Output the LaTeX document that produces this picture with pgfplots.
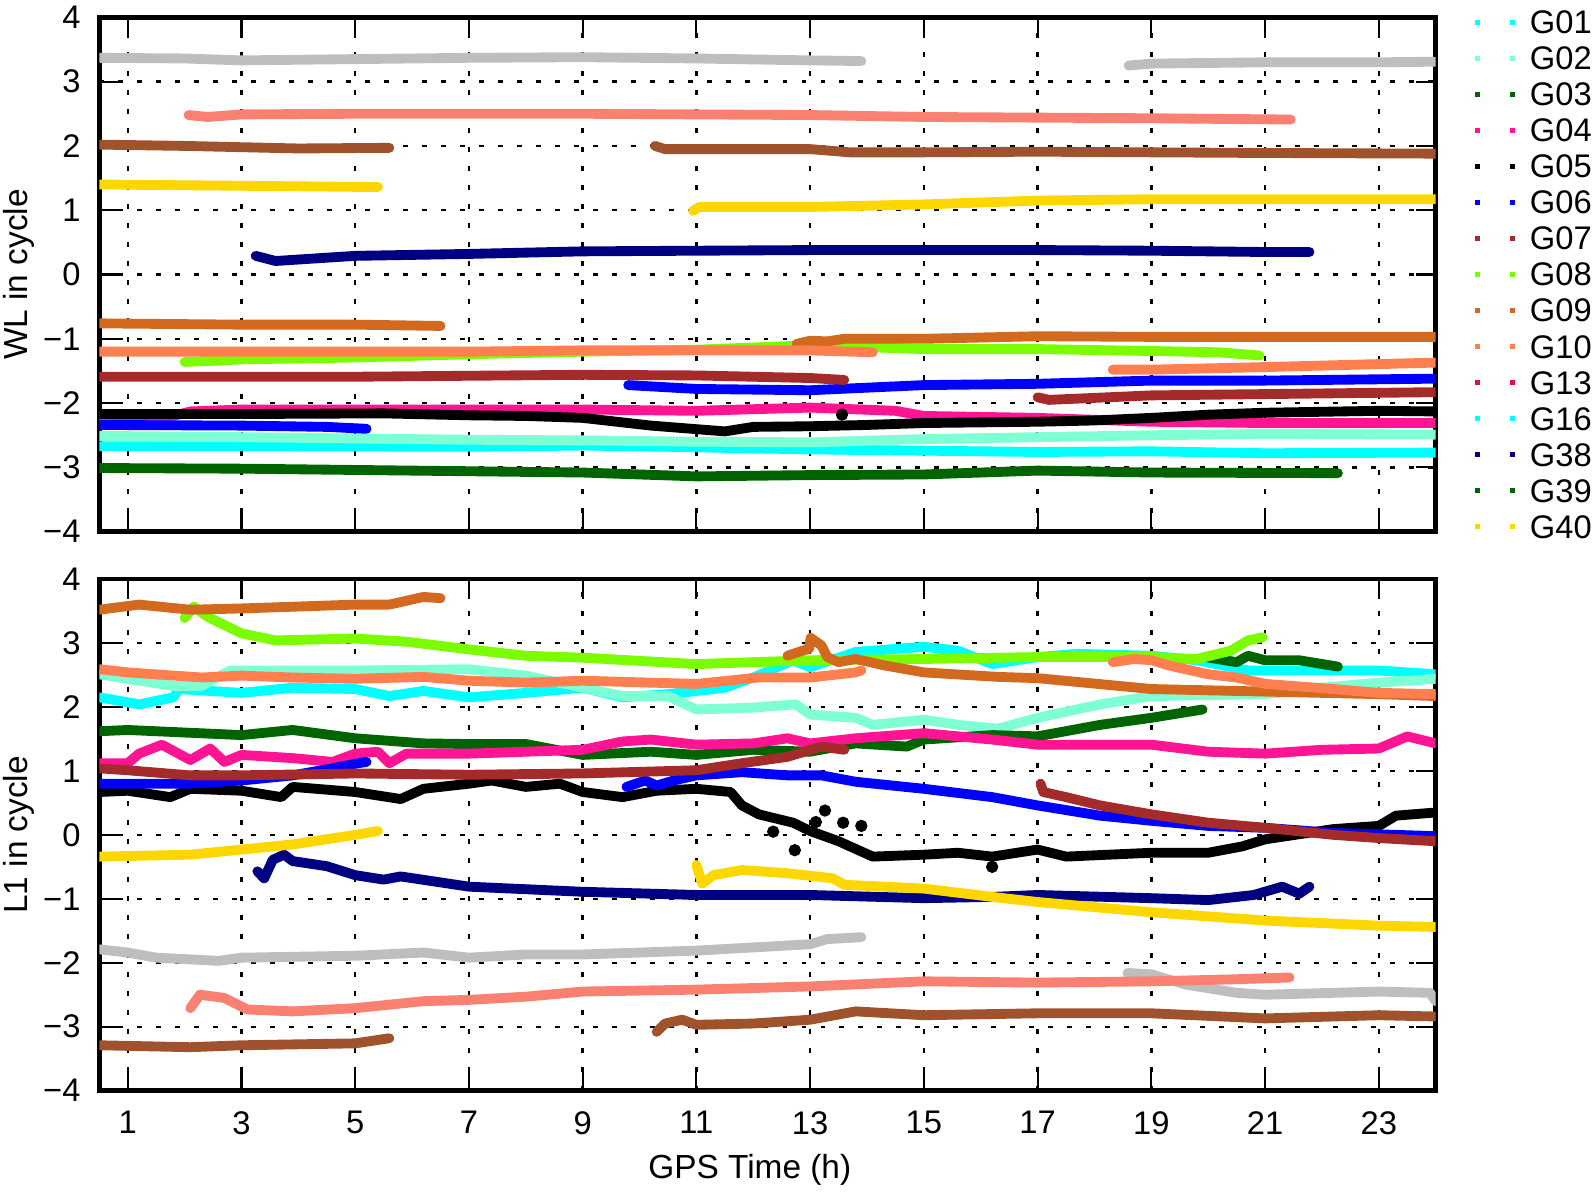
\documentclass[border=0pt]{standalone}
\usepackage{fontspec}
\setmainfont{Liberation Sans}
\usepackage{pgfplots}
\pgfplotsset{compat=1.18}

% satellite colours
\definecolor{cG01}{HTML}{00FFFF}
\definecolor{cG02}{HTML}{7FFFD4}
\definecolor{cG03}{HTML}{006400}
\definecolor{cG04}{HTML}{FF1493}
\definecolor{cG05}{HTML}{000000}
\definecolor{cG06}{HTML}{0000FF}
\definecolor{cG07}{HTML}{A52A2A}
\definecolor{cG08}{HTML}{7CFC00}
\definecolor{cG09}{HTML}{D2691E}
\definecolor{cG10}{HTML}{FF7F50}
\definecolor{cG13}{HTML}{DC143C}
\definecolor{cG16}{HTML}{00FFFF}
\definecolor{cG38}{HTML}{000080}
\definecolor{cG39}{HTML}{006400}
\definecolor{cG40}{HTML}{FFD700}
\definecolor{cSil}{HTML}{BEBEBE}
\definecolor{cSal}{HTML}{FA8072}
\definecolor{cSie}{HTML}{A0522D}

\pgfplotsset{
  panel/.style={
    scale only axis, width=13.364cm,
    xmin=0.5, xmax=24, ymin=-4, ymax=4,
    xtick={1,3,...,23}, ytick={-4,...,4},
    yticklabels={−4,−3,−2,−1,0,1,2,3,4},
    tick align=inside, major tick length=0.2cm,
    every tick/.style={black, line width=0.6pt},
    axis line style={line width=1.4pt},
    grid=major,
    major grid style={black, line width=0.7pt, dash pattern=on 1.4pt off 4pt},
    tick label style={font=\fontsize{9.3}{11}\selectfont},
    yticklabel style={xshift=-0.064cm},
    xticklabel style={yshift=-0.084cm},
    label style={font=\fontsize{9.5}{11}\selectfont},
    ylabel style={at={(axis description cs:-0.0602,0.5)}, anchor=center, rotate=0},
    every axis plot/.append style={line width=2.8pt, line cap=round, line join=round},
  },
  dots/.style={only marks, mark=*, mark size=1.6pt, line width=0.3pt},
}

\begin{document}
\begin{tikzpicture}
\path[use as bounding box] (0,0) rectangle (15.94,-11.91);

% ---------- WL ----------
\begin{axis}[panel, height=5.144cm,
    at={(0.993cm,-0.173cm)}, anchor=north west,
    xticklabels={},
    ylabel={WL in cycle},
    legend cell align=left,
    legend image code/.code={
      \path[fill, draw=none] (0cm,-0.025cm) rectangle (0.05cm,0.025cm);
      \path[fill, draw=none] (0.35cm,-0.025cm) rectangle (0.40cm,0.025cm);},
    legend style={at={(axis description cs:1,1)}, anchor=north west,
      xshift=0.39cm, yshift=0.14cm, draw=none, fill=none,
      inner sep=0pt, row sep=0pt, column sep=0.145cm,
      font=\fontsize{9.3}{11}\selectfont,
      nodes={inner sep=0pt, minimum height=0.3606cm, text depth=0pt}},
  ]
  \addplot[cSil, forget plot] coordinates {(0.5,3.37)(2,3.36)(3,3.33)(5,3.35)(7,3.37)(9,3.38)(11,3.36)(13,3.33)(13.9,3.32)};
  \addplot[cSil, forget plot] coordinates {(18.6,3.25)(19,3.28)(20,3.29)(21,3.3)(23,3.3)(24,3.31)};
  \addplot[cSal, forget plot] coordinates {(2.07,2.48)(2.4,2.45)(3,2.49)(5,2.5)(7,2.5)(9,2.5)(11,2.49)(13,2.48)(15,2.45)(17,2.44)(19,2.43)(21.45,2.41)};
  \addplot[cSie, forget plot] coordinates {(0.5,2.02)(2,2.0)(3,1.98)(4,1.96)(5.6,1.97)};
  \addplot[cSie, forget plot] coordinates {(10.27,2.0)(10.45,1.95)(13,1.95)(13.7,1.9)(15,1.9)(17,1.91)(19,1.9)(21,1.89)(24,1.88)};
  \addplot[cG01, forget plot] coordinates {(0.5,-2.67)(3,-2.67)(7,-2.68)(9,-2.66)(10.5,-2.68)(13,-2.72)(15,-2.74)(17,-2.76)(19,-2.75)(21,-2.78)(24,-2.77)};
  \addplot[cG02, forget plot] coordinates {(0.5,-2.51)(3,-2.53)(7,-2.57)(9,-2.58)(11,-2.6)(13,-2.61)(15,-2.56)(17,-2.53)(19,-2.5)(21,-2.48)(24,-2.49)};
  \addplot[cG03, forget plot] coordinates {(0.5,-3.01)(3,-3.02)(7,-3.06)(9,-3.08)(11,-3.14)(13,-3.12)(15,-3.11)(17,-3.05)(19,-3.08)(22.28,-3.09)};
  \addplot[cG04, forget plot] coordinates {(0.5,-2.2)(1.8,-2.2)(2.1,-2.13)(3,-2.1)(5,-2.1)(9,-2.1)(11,-2.12)(13,-2.07)(14.5,-2.12)(15,-2.2)(17,-2.23)(19,-2.29)(21,-2.31)(24,-2.31)};
  \addplot[cG05, forget plot] coordinates {(0.5,-2.17)(3,-2.17)(5.5,-2.16)(7,-2.19)(8,-2.2)(9,-2.23)(10.2,-2.35)(11.5,-2.44)(12,-2.37)(13,-2.36)(14,-2.34)(15,-2.31)(17,-2.29)(18,-2.27)(19,-2.23)(20,-2.18)(21,-2.15)(23,-2.12)(24,-2.13)};
  \addplot[cG05, dots, forget plot] coordinates {(13.56,-2.18)};
  \addplot[cG06, forget plot] coordinates {(0.5,-2.34)(3,-2.35)(4.5,-2.37)(5.2,-2.4)};
  \addplot[cG06, forget plot] coordinates {(9.8,-1.72)(11,-1.78)(13,-1.8)(15,-1.72)(17,-1.7)(19,-1.65)(21,-1.65)(24,-1.62)};
  \addplot[cG07, forget plot] coordinates {(0.5,-1.59)(5,-1.59)(9,-1.56)(11,-1.57)(13,-1.61)(13.6,-1.64)};
  \addplot[cG07, forget plot] coordinates {(17,-1.91)(17.2,-1.95)(19,-1.88)(21,-1.86)(24,-1.83)};
  \addplot[cG08, forget plot] coordinates {(2,-1.36)(3,-1.32)(5,-1.29)(7,-1.24)(9,-1.2)(11,-1.17)(13,-1.1)(15,-1.16)(17,-1.16)(19,-1.19)(20.2,-1.21)(20.9,-1.26)};
  \addplot[cG09, forget plot] coordinates {(0.5,-0.76)(3,-0.78)(5,-0.78)(6.5,-0.8)};
  \addplot[cG09, forget plot] coordinates {(12.76,-1.08)(13,-1.03)(13.3,-1.04)(13.6,-1.0)(15,-1.0)(17,-0.96)(19,-0.97)(24,-0.97)};
  \addplot[cG10, forget plot] coordinates {(0.5,-1.2)(7,-1.2)(9,-1.18)(13,-1.18)(14.1,-1.21)};
  \addplot[cG10, forget plot] coordinates {(18.32,-1.48)(19,-1.48)(21,-1.44)(24,-1.37)};
  \addplot[cG38, forget plot] coordinates {(3.25,0.29)(3.6,0.21)(5,0.29)(7,0.32)(9,0.36)(11,0.37)(13,0.38)(17,0.38)(19,0.37)(21,0.35)(21.78,0.35)};
  \addplot[cG40, forget plot] coordinates {(0.5,1.4)(3,1.38)(5.4,1.36)};
  \addplot[cG40, forget plot] coordinates {(10.94,0.99)(11.05,1.05)(13,1.05)(15,1.09)(17,1.15)(19,1.17)(24,1.17)};

  \addlegendimage{cG01}\addlegendentry{G01}
  \addlegendimage{cG02}\addlegendentry{G02}
  \addlegendimage{cG03}\addlegendentry{G03}
  \addlegendimage{cG04}\addlegendentry{G04}
  \addlegendimage{cG05}\addlegendentry{G05}
  \addlegendimage{cG06}\addlegendentry{G06}
  \addlegendimage{cG07}\addlegendentry{G07}
  \addlegendimage{cG08}\addlegendentry{G08}
  \addlegendimage{cG09}\addlegendentry{G09}
  \addlegendimage{cG10}\addlegendentry{G10}
  \addlegendimage{cG13}\addlegendentry{G13}
  \addlegendimage{cG16}\addlegendentry{G16}
  \addlegendimage{cG38}\addlegendentry{G38}
  \addlegendimage{cG39}\addlegendentry{G39}
  \addlegendimage{cG40}\addlegendentry{G40}
\end{axis}

% ---------- L1 ----------
\begin{axis}[panel, height=5.117cm,
    at={(0.993cm,-5.79cm)}, anchor=north west,
    xticklabels={1,3,5,7,9,11,13,15,17,19,21,23},
    ylabel={L1 in cycle},
    xlabel={GPS Time (h)},
    xlabel style={at={(axis description cs:0.4867,-0.155)}, anchor=center},
  ]
  \addplot[cSil] coordinates {(0.5,-1.79)(1,-1.84)(1.5,-1.92)(2.6,-1.97)(3,-1.92)(5,-1.89)(6.2,-1.84)(7,-1.92)(8,-1.87)(9,-1.87)(11,-1.81)(13,-1.71)(13.3,-1.63)(13.9,-1.6)};
  \addplot[cSil] coordinates {(18.58,-2.16)(19,-2.18)(19.6,-2.34)(20.5,-2.47)(21,-2.5)(22.2,-2.47)(23,-2.45)(23.9,-2.47)(24,-2.6)};
  \addplot[cSal] coordinates {(2.1,-2.71)(2.27,-2.5)(2.7,-2.55)(3.1,-2.73)(3.9,-2.76)(5,-2.71)(6.2,-2.6)(7,-2.58)(8,-2.53)(9,-2.45)(11,-2.42)(13,-2.37)(15,-2.29)(17,-2.31)(19,-2.29)(20.4,-2.26)(21.43,-2.23)};
  \addplot[cSie] coordinates {(0.5,-3.29)(2.1,-3.32)(3,-3.29)(5,-3.26)(5.6,-3.18)};
  \addplot[cSie] coordinates {(10.3,-3.08)(10.45,-2.95)(10.75,-2.89)(11,-2.97)(12,-2.95)(13,-2.89)(13.8,-2.76)(15,-2.82)(17,-2.79)(19,-2.79)(21,-2.87)(23,-2.82)(24,-2.84)};
  \addplot[cG01] coordinates {(0.5,2.15)(1.2,2.04)(1.8,2.15)(1.9,2.28)(3,2.22)(3.9,2.3)(5,2.28)(5.6,2.17)(6.2,2.25)(7,2.15)(8,2.22)(9,2.3)(9.7,2.15)(10.5,2.2)(11.5,2.3)(12,2.46)(12.7,2.73)(13,2.62)(13.8,2.86)(15,2.94)(15.6,2.88)(16.2,2.67)(17,2.78)(17.7,2.83)(19,2.8)(19.8,2.73)(20.7,2.57)(21.6,2.57)(23,2.57)(24,2.51)};
  \addplot[cG02] coordinates {(0.5,2.51)(1,2.44)(1.8,2.33)(2.3,2.33)(2.8,2.57)(5,2.57)(7,2.59)(8,2.49)(9,2.3)(9.7,2.17)(10.5,2.17)(11,1.96)(12,1.99)(12.75,2.04)(13,1.88)(13.8,1.83)(14.1,1.72)(15,1.8)(15.6,1.72)(16.3,1.66)(17,1.83)(18.1,2.04)(19,2.17)(21,2.2)(22,2.3)(23,2.38)(24,2.44)};
  \addplot[cG03] coordinates {(0.5,1.62)(1,1.64)(3,1.56)(3.9,1.64)(5,1.51)(6.2,1.43)(7,1.42)(8,1.42)(9,1.25)(10.2,1.3)(11,1.25)(12,1.33)(13,1.3)(13.8,1.43)(14.7,1.38)(15,1.49)(16.2,1.56)(17,1.54)(18.1,1.72)(19,1.83)(19.9,1.96)};
  \addplot[cG39] coordinates {(19.95,2.78)(20.5,2.7)(20.7,2.8)(21,2.73)(21.6,2.73)(22.28,2.63)};
  \addplot[cG04] coordinates {(0.5,1.12)(1,1.12)(1.2,1.27)(1.6,1.41)(2.1,1.17)(2.45,1.35)(2.7,1.14)(3,1.25)(3.9,1.2)(4.6,1.14)(5,1.27)(5.4,1.3)(5.6,1.12)(5.9,1.27)(7,1.27)(8,1.3)(9,1.33)(9.7,1.46)(10.2,1.49)(11,1.41)(12,1.43)(12.6,1.51)(13,1.43)(13.8,1.51)(15,1.59)(16.2,1.49)(17,1.41)(19,1.41)(20,1.3)(21,1.27)(22,1.33)(23,1.35)(23.5,1.54)(24,1.43)};
  \addplot[cG05] coordinates {(0.5,0.67)(1,0.69)(1.75,0.59)(2.1,0.72)(3,0.69)(3.7,0.59)(3.9,0.75)(5,0.67)(5.8,0.56)(6.2,0.72)(7,0.8)(7.4,0.85)(8,0.75)(8.6,0.8)(9,0.67)(9.7,0.59)(10.3,0.69)(11,0.72)(11.6,0.67)(11.8,0.46)(12.1,0.32)(12.7,0.19)(13,0.06)(13.5,-0.1)(14.1,-0.34)(15,-0.31)(15.6,-0.28)(16.2,-0.34)(17,-0.23)(17.5,-0.34)(19,-0.28)(20,-0.28)(20.6,-0.18)(21,-0.07)(22.2,0.09)(23,0.14)(23.3,0.3)(24,0.35)};
  \addplot[cG05, dots] coordinates {(12.73,-0.24)(13.26,0.38)(13.58,0.19)(13.9,0.14)(16.2,-0.5)(12.35,0.05)(13.1,0.2)};
  \addplot[cG06] coordinates {(0.5,0.8)(2.1,0.8)(3,0.85)(3.9,0.93)(4.6,1.04)(5.05,1.12)(5.2,1.14)};
  \addplot[cG06] coordinates {(9.77,0.75)(10.1,0.85)(10.3,0.77)(10.6,0.85)(11,0.93)(11.8,0.98)(12.6,0.93)(13.2,0.93)(13.8,0.83)(15,0.72)(16.2,0.59)(17,0.46)(18.1,0.3)(19,0.22)(20,0.14)(21,0.11)(22.2,0.03)(24,-0.02)};
  \addplot[cG07] coordinates {(0.5,1.04)(1,1.01)(2.1,0.93)(3,0.93)(5,0.96)(7,0.94)(9,0.96)(11,1.01)(11.8,1.12)(12.6,1.22)(13.2,1.38)(13.6,1.33)};
  \addplot[cG07] coordinates {(17.05,0.8)(17.1,0.67)(17.5,0.59)(18.1,0.46)(19,0.32)(20,0.19)(21,0.11)(22.2,0.0)(23,-0.05)(24,-0.1)};
  \addplot[cG08] coordinates {(2.0,3.39)(2.16,3.57)(2.4,3.41)(3,3.15)(3.6,3.04)(5,3.07)(5.9,3.02)(7,2.9)(8,2.8)(9,2.77)(11,2.67)(13,2.73)(15,2.75)(17,2.78)(19,2.78)(19.8,2.75)(20.4,2.88)(20.7,3.04)(20.96,3.09)};
  \addplot[cG09] coordinates {(0.5,3.52)(1.2,3.6)(2.1,3.52)(3,3.54)(5,3.6)(5.6,3.6)(6,3.68)(6.2,3.72)(6.5,3.7)};
  \addplot[cG09] coordinates {(12.6,2.8)(12.8,2.86)(12.98,2.91)(13.01,3.08)(13.2,2.96)(13.3,2.78)(13.5,2.7)(13.8,2.75)(14.3,2.65)(15,2.54)(16.3,2.47)(17,2.45)(19,2.28)(21,2.24)(23,2.2)(24,2.17)};
  \addplot[cG10] coordinates {(0.5,2.59)(1,2.54)(2.3,2.46)(3,2.49)(3.9,2.46)(5,2.44)(6.2,2.47)(7,2.41)(8,2.38)(9,2.41)(11,2.36)(12.1,2.46)(13,2.46)(13.8,2.54)(13.9,2.57)};
  \addplot[cG10] coordinates {(18.32,2.7)(18.7,2.75)(19,2.73)(19.3,2.65)(20,2.51)(20.5,2.46)(21,2.36)(22.2,2.28)(23,2.22)(24,2.2)};
  \addplot[cG38] coordinates {(3.28,-0.57)(3.4,-0.68)(3.55,-0.39)(3.75,-0.31)(3.9,-0.41)(4.5,-0.49)(5,-0.63)(5.5,-0.7)(5.8,-0.65)(7,-0.81)(8,-0.85)(9,-0.89)(11,-0.94)(13,-0.94)(15,-0.99)(16.2,-0.97)(17,-0.94)(19,-0.99)(20,-1.02)(20.8,-0.94)(21.3,-0.81)(21.6,-0.92)(21.78,-0.81)};
  \addplot[cG40] coordinates {(0.5,-0.34)(2.1,-0.31)(3,-0.23)(3.9,-0.15)(5,0.0)(5.4,0.06)};
  \addplot[cG40] coordinates {(11,-0.47)(11.1,-0.76)(11.3,-0.63)(11.8,-0.55)(12.6,-0.6)(13.4,-0.68)(13.6,-0.78)(15,-0.84)(16.2,-0.97)(17,-1.05)(19,-1.21)(21,-1.34)(23,-1.42)(24,-1.44)};
\end{axis}
\end{tikzpicture}
\end{document}
